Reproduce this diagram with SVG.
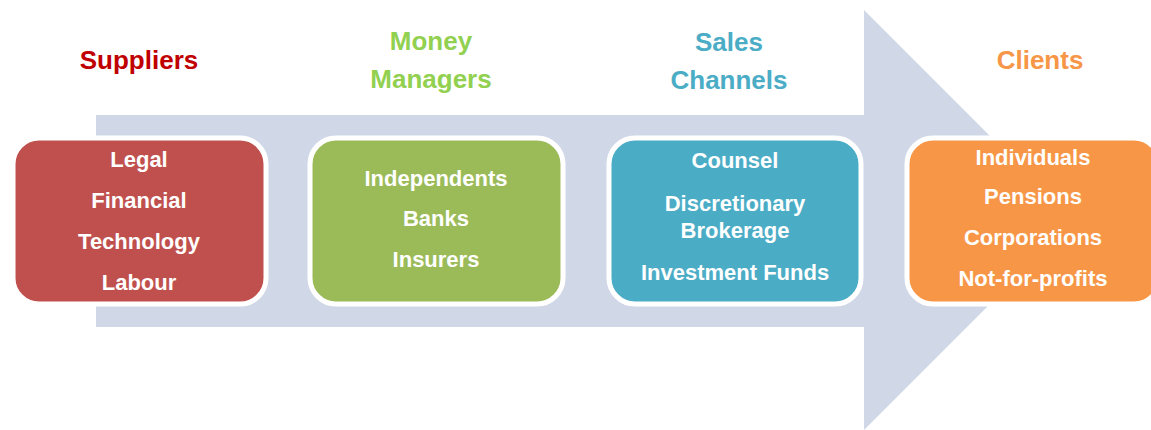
<svg xmlns="http://www.w3.org/2000/svg" width="1151" height="430" viewBox="0 0 1151 430">
<style>
.box{stroke:#ffffff;stroke-width:5}
.t{font-family:"Liberation Sans",Arial,sans-serif;font-weight:bold;font-size:22px;fill:#ffffff;text-anchor:middle}
.h{font-family:"Liberation Sans",Arial,sans-serif;font-weight:bold;font-size:26px;text-anchor:middle}
</style>
<rect width="1151" height="430" fill="#ffffff"/>
<g id="connectors">
<polygon points="96,115 864,115 864,10 1074,220 864,430 864,327 96,327" fill="#D0D8E8"/>
</g>
<g id="suppliers">
<text class="h" x="139" y="69" fill="#C00000">Suppliers</text>
<rect class="box" x="13" y="138" width="253" height="166" rx="26" fill="#C0504D"/>
<text class="t" x="139" y="167">Legal</text>
<text class="t" x="139" y="208">Financial</text>
<text class="t" x="139" y="249">Technology</text>
<text class="t" x="139" y="290">Labour</text>
</g>
<g id="money-managers">
<text class="h" x="431" y="50" fill="#92D050">Money</text>
<text class="h" x="431" y="88" fill="#92D050">Managers</text>
<rect class="box" x="310" y="138" width="253" height="166" rx="26" fill="#9BBB59"/>
<text class="t" x="436" y="186">Independents</text>
<text class="t" x="436" y="226">Banks</text>
<text class="t" x="436" y="267">Insurers</text>
</g>
<g id="sales-channels">
<text class="h" x="729" y="51" fill="#4BACC6">Sales</text>
<text class="h" x="729" y="89" fill="#4BACC6">Channels</text>
<rect class="box" x="609" y="138" width="252" height="166" rx="26" fill="#4BACC6"/>
<text class="t" x="735" y="168">Counsel</text>
<text class="t" x="735" y="211">Discretionary</text>
<text class="t" x="735" y="238">Brokerage</text>
<text class="t" x="735" y="280">Investment Funds</text>
</g>
<g id="clients">
<text class="h" x="1040" y="69" fill="#F79646">Clients</text>
<rect class="box" x="907" y="138" width="253" height="166" rx="26" fill="#F79646"/>
<text class="t" x="1033" y="165">Individuals</text>
<text class="t" x="1033" y="204">Pensions</text>
<text class="t" x="1033" y="245">Corporations</text>
<text class="t" x="1033" y="286">Not-for-profits</text>
</g>
</svg>
